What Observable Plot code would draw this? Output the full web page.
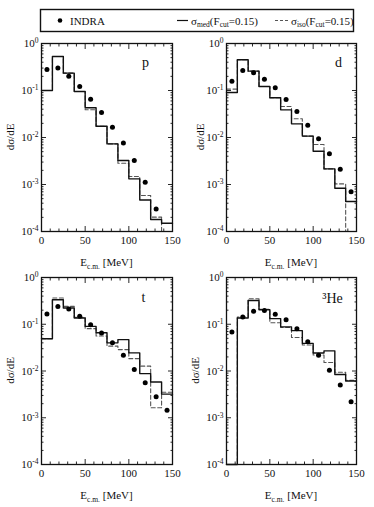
<!DOCTYPE html>
<html><head><meta charset="utf-8">
<script src="https://cdn.jsdelivr.net/npm/d3@7"></script>
<script src="https://cdn.jsdelivr.net/npm/@observablehq/plot@0.6"></script>
<style>
body{margin:0;background:#fff;}
#root{position:relative;width:374px;height:507px;background:#fff;overflow:hidden;}
#root svg{position:absolute;}
</style></head><body><div id="root"></div>
<script>
// ---- data ----
const binStart = [0, 12.5, 25, 37.5, 50, 62.5, 75, 87.5, 100, 112.5, 125, 137.5];
const eMax = 150;
const pointEnergy = [6.25, 18.75, 31.25, 43.75, 56.25, 68.75, 81.25, 93.75, 106.25, 118.75, 131.25, 143.75];
const xTicks = [0, 50, 100, 150];
const yTicks = [1e-4, 1e-3, 1e-2, 1e-1, 1];

// 0 means below the plotted range
const pSolid  = [0.10, 0.53, 0.234, 0.095, 0.0428, 0.0174, 0.0073, 0.00324, 0.00132, 0.000468, 0.00018, 0.00015];
const pDashed = [0.10, 0.53, 0.234, 0.095, 0.039, 0.0174, 0.0073, 0.00284, 0.00148, 0.000583, 0.000202, 0];
const pPoints = [0.28, 0.30, 0.20, 0.122, 0.065, 0.034, 0.0166, 0.0076, 0.00324, 0.00112, 0.0003];

const dSolid  = [0.0906, 0.45, 0.258, 0.122, 0.070, 0.0388, 0.0195, 0.0107, 0.0051, 0.00215, 0.000835, 0.000436];
const dDashed = [0.107, 0.45, 0.258, 0.122, 0.070, 0.0457, 0.025, 0.0107, 0.0071, 0.00215, 0.00103, 0];
const dPoints = [0.158, 0.267, 0.238, 0.174, 0.114, 0.064, 0.0357, 0.0183, 0.0094, 0.0045, 0.0021, 0.0007];

const tSolid  = [0.049, 0.334, 0.222, 0.136, 0.090, 0.066, 0.040, 0.047, 0.0244, 0.0088, 0.0058, 0.0032];
const tDashed = [0.049, 0.363, 0.241, 0.140, 0.0805, 0.056, 0.034, 0.0287, 0.0184, 0.0127, 0.00164, 0.0035];
const tPoints = [0.165, 0.24, 0.212, 0.148, 0.097, 0.065, 0.040, 0.0216, 0.0108, 0.0056, 0.0028, 0.00144];

const heSolid  = [0, 0.136, 0.323, 0.205, 0.132, 0.088, 0.073, 0.039, 0.0243, 0.027, 0.0084, 0.0061];
const heDashed = [0, 0.143, 0.35, 0.21, 0.108, 0.085, 0.052, 0.036, 0.022, 0.0152, 0.0094, 0.0063];
const hePoints = [0.068, 0.143, 0.19, 0.198, 0.163, 0.125, 0.080, 0.042, 0.0217, 0.0104, 0.005, 0.0022];

const panelLabels = ["p", "d", "t", "³He"];
const yTitle = "dσ/dE";

// ---- layout ----
const FONT = "'Liberation Serif','Times New Roman',serif";
const INK = "#111";
const W = 187, H = 270;
const root = document.getElementById("root");

const panels = [
  {label: panelLabels[0], solid: pSolid, dashed: pDashed, points: pPoints, left: 0, top: 0, mr: 15, mt: 43, mb: 39, tdx: -27, tdy: 19, yt: 31},
  {label: panelLabels[1], solid: dSolid, dashed: dDashed, points: dPoints, left: 185, top: 0, mr: 16, mt: 43, mb: 39, tdx: -18, tdy: 19, yt: 26},
  {label: panelLabels[2], solid: tSolid, dashed: tDashed, points: tPoints, left: 0, top: 234, mr: 15, mt: 43, mb: 40, tdx: -29, tdy: 20, yt: 31},
  {label: panelLabels[3], solid: heSolid, dashed: heDashed, points: hePoints, left: 185, top: 234, mr: 16, mt: 43, mb: 40, tdx: -24, tdy: 21, yt: 31}
];

const minorY = d3.scaleLog().domain([1e-4, 1]).ticks().filter(v => !yTicks.some(t => Math.abs(t - v) / t < 1e-9));
const minorX = d3.range(0, 151, 10).filter(v => v % 50 !== 0);

function steps(vals) {
  const pts = binStart.map((x, i) => ({x, y: Math.max(vals[i], 1e-4)}));
  pts.push({x: eMax, y: pts[pts.length - 1].y});
  return pts;
}

function tickAxes() {
  const blank = () => "";
  const o = {label: null, tickFormat: blank, stroke: INK, strokeWidth: 0.9};
  return [
    Plot.axisX(xTicks, {...o, anchor: "bottom", tickSize: -5}),
    Plot.axisX(xTicks, {...o, anchor: "top", tickSize: -5}),
    Plot.axisX(minorX, {...o, anchor: "bottom", tickSize: -2.5}),
    Plot.axisX(minorX, {...o, anchor: "top", tickSize: -2.5}),
    Plot.axisY(yTicks, {...o, anchor: "left", tickSize: -5}),
    Plot.axisY(yTicks, {...o, anchor: "right", tickSize: -5}),
    Plot.axisY(minorY, {...o, anchor: "left", tickSize: -2.5}),
    Plot.axisY(minorY, {...o, anchor: "right", tickSize: -2.5})
  ];
}

panels.forEach(P => {
  const pts = P.points.map((v, i) => ({x: pointEnergy[i], y: v}));
  const svg = Plot.plot({
    width: W, height: H,
    marginLeft: 41, marginRight: P.mr, marginTop: P.mt, marginBottom: P.mb,
    style: {fontFamily: FONT, fontSize: "11px", color: INK, background: "transparent", overflow: "visible"},
    x: {domain: [0, 150]},
    y: {type: "log", domain: [1e-4, 1]},
    marks: [
      Plot.line(steps(P.dashed), {x: "x", y: "y", curve: "step-after", stroke: "#555", strokeWidth: 1.1, strokeDasharray: "4,2.5"}),
      Plot.line(steps(P.solid), {x: "x", y: "y", curve: "step-after", stroke: INK, strokeWidth: 1.4}),
      Plot.dot(pts, {x: "x", y: "y", r: 2.5, fill: "#000", stroke: null}),
      ...tickAxes(),
      Plot.axisX(xTicks, {anchor: "bottom", tickSize: 0, tickPadding: 5, label: null, fontSize: 11, fill: INK}),
      Plot.axisY(yTicks, {anchor: "left", tickSize: 0, tickPadding: 3, label: null, fontSize: 11, fill: INK,
        tickFormat: d => `10^${Math.round(Math.log10(d))}`}),
      Plot.frame({stroke: INK, strokeWidth: 1.3}),
      Plot.text([P.label], {text: d => d, frameAnchor: "top-right", dx: P.tdx, dy: P.tdy,
        textAnchor: "middle", lineAnchor: "middle", fontSize: 14, fill: INK})
    ]
  });
  svg.style.left = P.left + "px";
  svg.style.top = P.top + "px";
  const s = d3.select(svg);
  // superscript exponents on y tick labels
  s.selectAll("text").each(function () {
    const m = /^10\^(-?\d+)$/.exec(this.textContent);
    if (!m) return;
    const t = d3.select(this);
    t.text("");
    t.append("tspan").text("10");
    t.append("tspan").attr("dy", "-0.5em").attr("font-size", "7.5px").text(m[1]);
  });
  const fw = W - 41 - P.mr, fh = H - P.mt - P.mb;
  // x title
  const xt = s.append("text").attr("x", 41 + fw / 2).attr("y", H - P.mb + 35)
    .attr("text-anchor", "middle").attr("font-size", "11px").attr("fill", INK).attr("font-family", FONT);
  xt.append("tspan").text("E");
  xt.append("tspan").attr("dy", 3).attr("font-size", "7.5px").text("c.m.");
  xt.append("tspan").attr("dy", -3).text(" [MeV]");
  // y title
  s.append("text").attr("transform", `translate(${41 - P.yt},${P.mt + fh / 2}) rotate(-90)`)
    .attr("text-anchor", "middle").attr("dy", "0.35em").attr("font-size", "11px").attr("fill", INK)
    .attr("font-family", FONT).text(yTitle);
  root.appendChild(svg);
});

// ---- legend ----
const leg = d3.select(root).append("svg").attr("width", 374).attr("height", 40)
  .style("left", "0px").style("top", "0px").attr("font-family", FONT).attr("font-size", "11px");
leg.append("rect").attr("x", 40.5).attr("y", 9.5).attr("width", 313).attr("height", 22)
  .attr("fill", "none").attr("stroke", INK).attr("stroke-width", 1.4);
leg.append("circle").attr("cx", 60).attr("cy", 20.5).attr("r", 2.3).attr("fill", "#000");
leg.append("text").attr("x", 70).attr("y", 24.5).attr("fill", INK).text("INDRA");
leg.append("line").attr("x1", 177).attr("x2", 188).attr("y1", 20.5).attr("y2", 20.5).attr("stroke", INK).attr("stroke-width", 1.2);
leg.append("line").attr("x1", 275).attr("x2", 288).attr("y1", 20.5).attr("y2", 20.5).attr("stroke", "#555").attr("stroke-width", 1.1).attr("stroke-dasharray", "3,2");
function sigmaLabel(x, sub) {
  const t = leg.append("text").attr("x", x).attr("y", 24.5).attr("fill", INK);
  t.append("tspan").text("σ");
  t.append("tspan").attr("dy", 2.5).attr("font-size", "7.5px").text(sub);
  t.append("tspan").attr("dy", -2.5).text("(F");
  t.append("tspan").attr("dy", 2.5).attr("font-size", "7.5px").text("cut");
  t.append("tspan").attr("dy", -2.5).text("=0.15)");
}
sigmaLabel(191, "med");
sigmaLabel(291, "iso");
</script></body></html>
